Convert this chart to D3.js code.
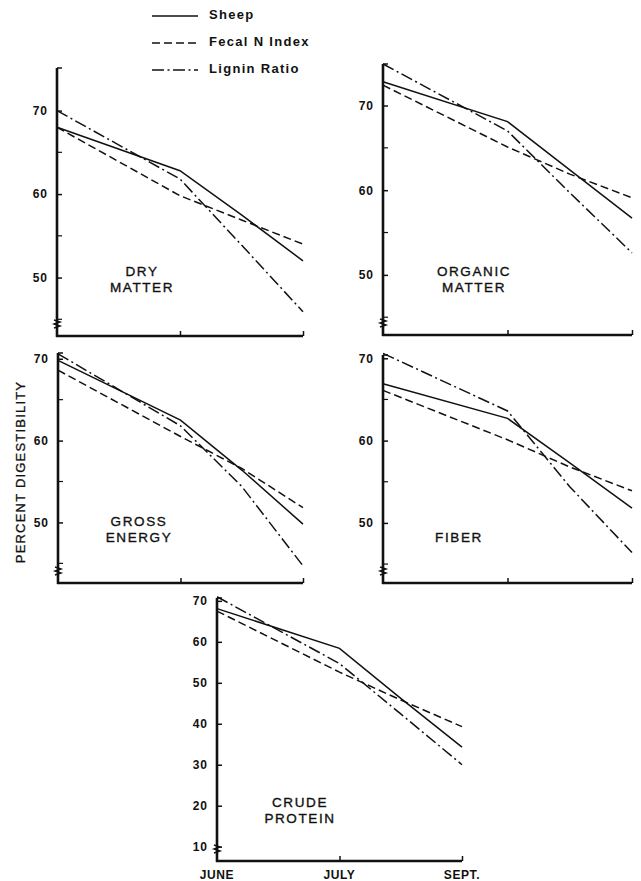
<!DOCTYPE html>
<html>
<head>
<meta charset="utf-8">
<script src="https://cdn.jsdelivr.net/npm/d3@7"></script>
<style>
  body { margin: 0; background: #fff; }
  svg { display: block; }
  text { font-family: "Liberation Sans", Arial, sans-serif; fill: #111; }
</style>
</head>
<body>
<svg width="641" height="881"></svg>
<script>
// time positions: June, July, (August, unlabelled), September
const samplePos = [0, 1, 1.5, 2];
const monthLabels = ["JUNE", "JULY", "SEPT."];
const monthPos = [0, 1, 2];
const seriesNames = ["Sheep", "Fecal N Index", "Lignin Ratio"];

// values, percent digestibility
const dmSheep = [68.0, 62.8, 57.5, 52.0];
const dmFecal = [68.0, 59.8, 56.9, 54.0];
const dmLignin = [70.0, 61.8, 53.9, 45.9];

const omSheep = [72.8, 68.1, 62.4, 56.7];
const omFecal = [72.4, 65.1, 61.9, 59.1];
const omLignin = [74.9, 67.0, 59.7, 52.6];

const geSheep = [69.8, 62.5, 56.4, 49.8];
const geFecal = [68.6, 60.5, 56.6, 51.8];
const geLignin = [70.6, 61.8, 54.4, 44.7];

const fbSheep = [66.9, 62.7, 57.3, 51.8];
const fbFecal = [66.1, 60.1, 56.8, 53.9];
const fbLignin = [70.6, 63.6, 54.4, 46.4];

const cpSheep = [68.1, 58.4, 46.2, 34.3];
const cpFecal = [67.5, 52.6, 45.8, 39.3];
const cpLignin = [71.0, 54.7, 42.4, 30.0];

const panelTitles = [["DRY", "MATTER"], ["ORGANIC", "MATTER"], ["GROSS", "ENERGY"], ["FIBER"], ["CRUDE", "PROTEIN"]];
const upperTicks = [50, 60, 70];
const upperMinor = [45, 55, 65];
const cpTicks = [10, 20, 30, 40, 50, 60, 70];

const dash = {
  "Sheep": null,
  "Fecal N Index": "8,4",
  "Lignin Ratio": "12,3.5,2,3.5"
};

const panels = [
  { title: panelTitles[0], data: [dmSheep, dmFecal, dmLignin], box: [57, 303, 336, 68], dom: [43.0, 75.1], ticks: upperTicks, minor: upperMinor, tx: 142, ty: 272 },
  { title: panelTitles[1], data: [omSheep, omFecal, omLignin], box: [383, 632, 335, 64], dom: [42.9, 74.9], ticks: upperTicks, minor: upperMinor, tx: 474, ty: 272 },
  { title: panelTitles[2], data: [geSheep, geFecal, geLignin], box: [58, 303, 583, 353], dom: [42.6, 70.7], ticks: upperTicks, minor: upperMinor, tx: 139, ty: 522 },
  { title: panelTitles[3], data: [fbSheep, fbFecal, fbLignin], box: [383, 632, 583, 355], dom: [42.7, 70.4], ticks: upperTicks, minor: upperMinor, tx: 459, ty: 538 },
  { title: panelTitles[4], data: [cpSheep, cpFecal, cpLignin], box: [217, 462, 861, 598], dom: [6.5, 70.7], ticks: cpTicks, minor: [], tx: 300, ty: 803, months: true }
];

const svg = d3.select("svg");

panels.forEach(p => {
  const [x0, x1, yb, yt] = p.box;
  const x = d3.scaleLinear().domain([0, 2]).range([x0, x1]);
  const y = d3.scaleLinear().domain(p.dom).range([yb, yt]);
  const g = svg.append("g");

  // data lines
  const line = d3.line().x((d, i) => x(samplePos[i])).y(d => y(d));
  p.data.forEach((vals, i) => {
    g.append("path")
      .attr("d", line(vals))
      .attr("fill", "none")
      .attr("stroke", "#111")
      .attr("stroke-width", 1.5)
      .attr("stroke-dasharray", dash[seriesNames[i]]);
  });

  // y axis
  const yAxis = d3.axisLeft(y).tickValues(p.ticks).tickSize(-5).tickPadding(9).tickFormat(d3.format("d"));
  const ya = g.append("g").attr("transform", `translate(${x0},0)`).call(yAxis);
  ya.select(".domain").remove();
  ya.selectAll(".tick line").attr("stroke", "#111").attr("stroke-width", 1.5);
  ya.selectAll(".tick text").attr("font-size", 12).attr("font-weight", "bold")
    .attr("letter-spacing", 1).attr("fill", "#111");
  g.selectAll(".minor").data(p.minor).join("line")
    .attr("x1", x0).attr("x2", x0 + 5)
    .attr("y1", d => y(d)).attr("y2", d => y(d))
    .attr("stroke", "#111").attr("stroke-width", 1.2);
  g.append("line").attr("x1", x0).attr("x2", x0).attr("y1", yt).attr("y2", yb + 1)
    .attr("stroke", "#111").attr("stroke-width", 2.6);
  g.append("line").attr("x1", x0).attr("x2", x0 + 5).attr("y1", yt).attr("y2", yt)
    .attr("stroke", "#111").attr("stroke-width", 1.5);

  // axis break squiggle
  const bk = yb - 12;
  g.append("path")
    .attr("d", `M${x0 - 3},${bk - 4} L${x0 + 3},${bk - 2} L${x0 - 3},${bk} L${x0 + 3},${bk + 2} L${x0 - 3},${bk + 4}`)
    .attr("fill", "none").attr("stroke", "#111").attr("stroke-width", 1.4);

  // x axis
  const xAxis = d3.axisBottom(x).tickValues(monthPos).tickSize(-5).tickFormat("");
  const xa = g.append("g").attr("transform", `translate(0,${yb})`).call(xAxis);
  xa.select(".domain").remove();
  xa.selectAll(".tick").filter(d => d === 0).remove();
  xa.selectAll(".tick line").attr("stroke", "#111").attr("stroke-width", 1.5);
  g.append("line").attr("x1", x0 - 1).attr("x2", x1).attr("y1", yb).attr("y2", yb)
    .attr("stroke", "#111").attr("stroke-width", 2.6);

  if (p.months) {
    g.selectAll(".month").data(monthLabels).join("text")
      .attr("x", (d, i) => x(monthPos[i]))
      .attr("y", yb + 18)
      .attr("text-anchor", "middle")
      .attr("font-size", 12).attr("font-weight", "bold")
      .attr("letter-spacing", 0.6)
      .text(d => d);
  }

  // panel title
  g.selectAll(".ttl").data(p.title).join("text")
    .attr("x", p.tx)
    .attr("y", (d, i) => p.ty + i * 16)
    .attr("text-anchor", "middle")
    .attr("dominant-baseline", "middle")
    .attr("font-size", 13.5)
    .attr("letter-spacing", 1.6)
    .attr("stroke", "#111").attr("stroke-width", 0.35)
    .text(d => d);
});

// y axis title
svg.append("text")
  .attr("transform", "translate(22,472) rotate(-90)")
  .attr("text-anchor", "middle")
  .attr("dominant-baseline", "middle")
  .attr("font-size", 13)
  .attr("letter-spacing", 1.2)
  .attr("stroke", "#111").attr("stroke-width", 0.3)
  .text("PERCENT DIGESTIBILITY");

// legend
const legendY = d3.scalePoint().domain(seriesNames).range([16, 70]);
const lg = svg.append("g");
seriesNames.forEach(s => {
  lg.append("line")
    .attr("x1", 152).attr("x2", 198)
    .attr("y1", legendY(s)).attr("y2", legendY(s))
    .attr("stroke", "#111").attr("stroke-width", 1.6)
    .attr("stroke-dasharray", dash[s]);
  lg.append("text")
    .attr("x", 209).attr("y", legendY(s))
    .attr("dominant-baseline", "middle")
    .attr("font-size", 13).attr("font-weight", "bold")
    .attr("letter-spacing", 1.3)
    .text(s);
});
</script>
</body>
</html>
